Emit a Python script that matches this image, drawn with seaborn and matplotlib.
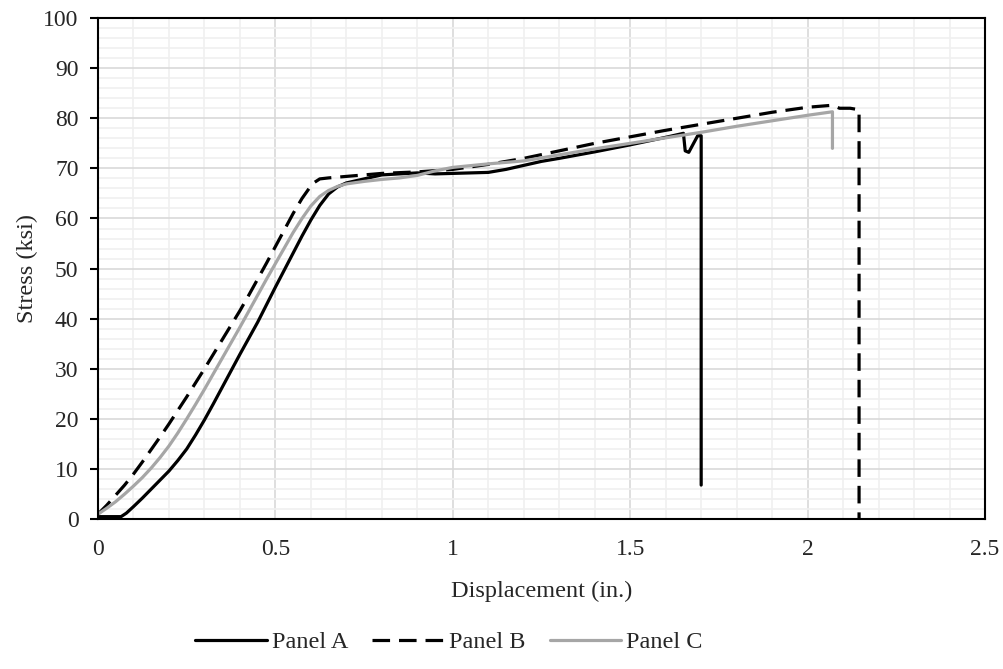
import numpy as np
import pandas as pd
import seaborn as sns
import matplotlib.pyplot as plt
from matplotlib.ticker import MultipleLocator

# Stress-displacement curves
panel_a_x = [0, 0.065, 0.08, 0.1, 0.125, 0.15, 0.175, 0.2, 0.225, 0.25, 0.275, 0.3, 0.325,
             0.35, 0.375, 0.4, 0.425, 0.45, 0.475, 0.5, 0.525, 0.55, 0.575, 0.6, 0.625,
             0.65, 0.675, 0.7, 0.75, 0.8, 0.85, 0.9, 0.95, 1.0, 1.05, 1.1, 1.15, 1.2,
             1.25, 1.3, 1.4, 1.5, 1.6, 1.65, 1.655, 1.665, 1.69, 1.70, 1.70]
panel_a_y = [0.5, 0.5, 1.2, 2.5, 4.2, 6, 7.8, 9.6, 11.7, 14, 16.8, 19.8, 23,
             26.3, 29.6, 32.9, 36.1, 39.3, 42.8, 46.3, 49.7, 53.1, 56.5, 59.7, 62.6,
             64.9, 66.3, 67.1, 67.9, 68.7, 68.9, 69.1, 68.9, 69, 69.1, 69.2, 69.8, 70.6,
             71.4, 72.0, 73.3, 74.7, 76.2, 77, 73.5, 73.2, 76.5, 76.5, 6.8]

panel_b_x = [0, 0.025, 0.05, 0.075, 0.1, 0.125, 0.15, 0.175, 0.2, 0.225, 0.25, 0.275,
             0.3, 0.325, 0.35, 0.375, 0.4, 0.425, 0.45, 0.475, 0.5, 0.525, 0.55, 0.575,
             0.6, 0.61, 0.625, 0.65, 0.7, 0.8, 0.9, 1.0, 1.1, 1.2, 1.3, 1.4, 1.5, 1.6,
             1.7, 1.8, 1.9, 2.0, 2.07, 2.09, 2.12, 2.145, 2.145]
panel_b_y = [1, 2.8, 4.8, 6.8, 9, 11.4, 13.9, 16.4, 19, 21.7, 24.4, 27.2,
             30, 32.9, 35.8, 38.7, 41.6, 44.7, 47.9, 51.1, 54.4, 57.7, 61, 64,
             66.5, 67.2, 67.9, 68.1, 68.4, 69, 69.3, 69.8, 70.8, 72, 73.5, 75, 76.3, 77.6,
             78.8, 80, 81.2, 82.2, 82.6, 82, 82, 81.7, 0]

panel_c_x = [0, 0.025, 0.05, 0.075, 0.1, 0.125, 0.15, 0.175, 0.2, 0.225, 0.25, 0.275,
             0.3, 0.325, 0.35, 0.375, 0.4, 0.425, 0.45, 0.475, 0.5, 0.525, 0.55, 0.575,
             0.6, 0.625, 0.65, 0.675, 0.7, 0.75, 0.8, 0.85, 0.9, 0.95, 1.0, 1.1, 1.2,
             1.3, 1.4, 1.5, 1.6, 1.7, 1.8, 1.9, 2.0, 2.07, 2.07]
panel_c_y = [1, 2.2, 3.5, 5, 6.6, 8.3, 10.2, 12.3, 14.6, 17.2, 20, 22.9,
             25.9, 29, 32.1, 35.2, 38.3, 41.5, 44.7, 47.9, 51, 54.1, 57.2, 60,
             62.5, 64.4, 65.6, 66.4, 66.9, 67.4, 67.8, 68.1, 68.6, 69.5, 70.2, 70.9, 71.5,
             72.7, 73.9, 75, 76.1, 77.2, 78.4, 79.5, 80.6, 81.3, 74]

sns.set_style("white")
plt.rcParams['font.family'] = ['Liberation Serif', 'DejaVu Serif']
plt.rcParams['font.size'] = 17.5

fig = plt.figure(figsize=(10.04, 6.69), dpi=100)
ax = fig.add_axes([0.0976, 0.224, 0.8835, 0.749])

ax.xaxis.set_major_locator(MultipleLocator(0.5))
ax.xaxis.set_minor_locator(MultipleLocator(0.1))
ax.yaxis.set_major_locator(MultipleLocator(10))
ax.yaxis.set_minor_locator(MultipleLocator(2))
ax.grid(which='minor', color='#f0f0f0', linewidth=1.2)
ax.grid(which='major', color='#d9d9d9', linewidth=1.2)
ax.set_axisbelow(True)

sns.lineplot(x=panel_a_x, y=panel_a_y, estimator=None, sort=False, ax=ax,
             color='black', linewidth=2.3, label='Panel A')
sns.lineplot(x=panel_b_x, y=panel_b_y, estimator=None, sort=False, ax=ax,
             color='black', linewidth=2.3, label='Panel B', dashes=False)
ax.lines[-1].set_dashes([5.5, 2.8])
sns.lineplot(x=panel_c_x, y=panel_c_y, estimator=None, sort=False, ax=ax,
             color='#a6a6a6', linewidth=2.3, label='Panel C')

ax.set_xlim(0, 2.5)
ax.set_ylim(0, 100)
ax.set_xticks([0, 0.5, 1, 1.5, 2, 2.5])
ax.set_xticklabels(['0', '0.5', '1', '1.5', '2', '2.5'])
ax.set_xlabel('Displacement (in.)', labelpad=15)
ax.set_ylabel('Stress (ksi)', labelpad=4)

for s in ax.spines.values():
    s.set_visible(True)
    s.set_color('black')
    s.set_linewidth(1.5)
ax.tick_params(axis='y', which='major', direction='out', length=6, width=1.5,
               color='black', left=True, pad=8, labelsize=17)
ax.tick_params(axis='y', which='minor', length=0)
ax.tick_params(axis='x', which='both', length=0, pad=14, labelsize=17)

leg = ax.legend(loc='center', bbox_to_anchor=(0.447, 0.04), bbox_transform=fig.transFigure,
                ncol=3, frameon=False, handlelength=2.95, columnspacing=1.0,
                handletextpad=0.2, fontsize=17.5)

fig.savefig('out.png', dpi=100)
